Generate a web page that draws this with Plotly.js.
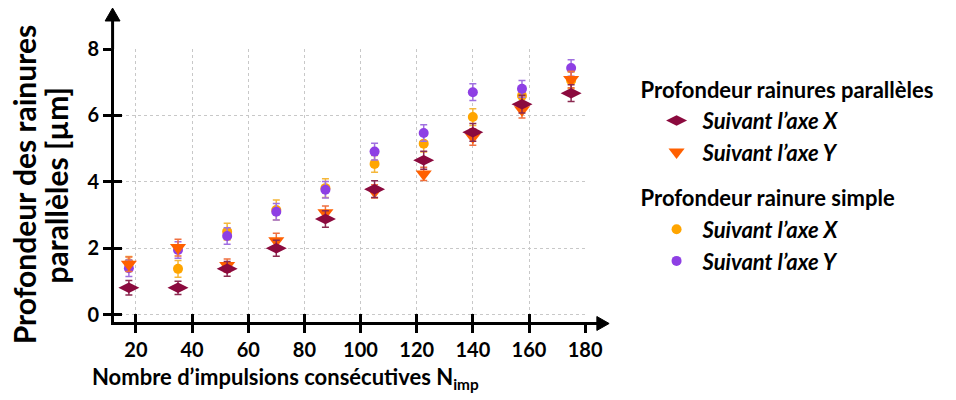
<!DOCTYPE html>
<html><head><meta charset="utf-8">
<script src="https://cdn.plot.ly/plotly-3.0.1.min.js"></script>
<style>body{margin:0;background:#fff}#c{width:956px;height:400px}</style>
</head><body><div id="c"></div>
<script>
const nImp = [17.5, 35, 52.5, 70, 87.5, 105, 122.5, 140, 157.5, 175];
const parX = [0.81, 0.81, 1.38, 2.00, 2.88, 3.78, 4.65, 5.49, 6.34, 6.67];
const parXErr = [0.22, 0.2, 0.22, 0.24, 0.25, 0.25, 0.27, 0.27, 0.27, 0.25];
const parY = [1.52, 2.02, 1.48, 2.23, 3.07, 3.71, 4.24, 5.35, 6.17, 7.08];
const parYErr = [0.22, 0.25, 0.2, 0.22, 0.2, 0.2, 0.2, 0.25, 0.25, 0.25];
const simX = [1.55, 1.38, 2.50, 3.15, 3.81, 4.54, 5.15, 5.95, 6.59, 7.05];
const simXErr = [0.2, 0.25, 0.25, 0.3, 0.28, 0.25, 0.25, 0.25, 0.25, 0.25];
const simY = [1.40, 1.95, 2.37, 3.10, 3.76, 4.91, 5.47, 6.70, 6.80, 7.43];
const simYErr = [0.25, 0.25, 0.25, 0.25, 0.25, 0.25, 0.25, 0.25, 0.25, 0.25];
const xTicks = [20, 40, 60, 80, 100, 120, 140, 160, 180];
const yTicks = [0, 2, 4, 6, 8];
const group1 = 'Profondeur rainures parallèles';
const group2 = 'Profondeur rainure simple';
const itemX = '<b><i>Suivant l’axe X</i></b>';
const itemY = '<b><i>Suivant l’axe Y</i></b>';
const xTitle = '<b>Nombre d’impulsions consécutives N<sub>imp</sub></b>';
const yTitle1 = '<b>Profondeur des rainures</b>';
const yTitle2 = '<b>parallèles [µm]</b>';

const F = 'Lato, "Open Sans", sans-serif';
function tr(y, err, name, grp, gtitle, color, ecolor, symbol, size, rank) {
  const t = {
    x: nImp, y: y, type: 'scatter', mode: 'markers', name: name,
    legendgroup: grp, legendrank: rank,
    marker: {color: color, symbol: symbol, size: size, line: {width: 0}},
    error_y: {type: 'data', array: err, visible: true, color: ecolor, thickness: 1.5, width: 3.5}
  };
  if (gtitle) t.legendgrouptitle = {text: '<b>' + gtitle + '</b>', font: {family: F, size: 22, color: '#000'}};
  return t;
}
const data = [
  tr(simX, simXErr, itemX, 'g2', group2, '#FFA500', '#F5B73A', 'circle', 10, 3),
  tr(simY, simYErr, itemY, 'g2', null, '#8E3FE4', '#A070E0', 'circle', 10, 4),
  tr(parY, parYErr, itemY, 'g1', null, '#FF6000', '#F07040', 'triangle-down', 14, 2),
  tr(parX, parXErr, itemX, 'g1', group1, '#8B0A3E', '#8B2A50', 'diamond-wide', 15, 1)
];
const axFont = {family: F, size: 20, color: '#000', weight: 'bold'};
const blk = '#000';
const layout = {
  width: 956, height: 400,
  margin: {l: 114, r: 366, t: 49, b: 78},
  paper_bgcolor: '#fff', plot_bgcolor: '#fff',
  showlegend: true,
  legend: {x: 1.105, xanchor: 'left', y: 0.93, yanchor: 'top', traceorder: 'grouped',
    font: {family: F, size: 22, color: '#000'}, tracegroupgap: 14, indentation: 15, itemwidth: 42,
    bgcolor: 'rgba(0,0,0,0)'},
  xaxis: {range: [12.2, 180.3], tickvals: xTicks, ticktext: xTicks.map(String),
    showline: true, linecolor: blk, linewidth: 3, ticks: 'outside', ticklen: 8, tickwidth: 3, tickcolor: blk,
    showgrid: true, gridcolor: '#c8c8c8', griddash: 'dot', gridwidth: 1, zeroline: false,
    tickfont: axFont},
  yaxis: {range: [-0.22, 8.0], tickvals: yTicks, ticktext: yTicks.map(String),
    showline: true, linecolor: blk, linewidth: 3, ticks: 'outside', ticklen: 8, tickwidth: 3, tickcolor: blk,
    showgrid: true, gridcolor: '#c8c8c8', griddash: 'dot', gridwidth: 1, zeroline: false,
    tickfont: axFont},
  xaxis2: {overlaying: 'x', matches: 'x', anchor: 'y', side: 'bottom', tickvals: xTicks,
    showticklabels: false, showgrid: false, zeroline: false, showline: false,
    ticks: 'inside', ticklen: 8, tickwidth: 3, tickcolor: blk},
  yaxis2: {overlaying: 'y', matches: 'y', anchor: 'x', side: 'left', tickvals: yTicks,
    showticklabels: false, showgrid: false, zeroline: false, showline: false,
    ticks: 'inside', ticklen: 8, tickwidth: 3, tickcolor: blk},
  annotations: [
    {xref: 'paper', yref: 'paper', x: 0.363, y: -0.205, xanchor: 'center', yanchor: 'middle', showarrow: false,
      text: xTitle, font: {family: F, size: 22, color: blk}},
    {xref: 'paper', yref: 'paper', x: -0.19, y: 0.502, xanchor: 'center', yanchor: 'middle', showarrow: false, textangle: -90,
      text: yTitle1, font: {family: F, size: 30, color: blk}},
    {xref: 'paper', yref: 'paper', x: -0.124, y: 0.502, xanchor: 'center', yanchor: 'middle', showarrow: false, textangle: -90,
      text: yTitle2, font: {family: F, size: 30, color: blk}}
  ],
  shapes: [
    {type: 'line', xref: 'paper', yref: 'paper', x0: 1.0, x1: 1.03, y0: -0.0055, y1: -0.0055, line: {color: blk, width: 3}},
    {type: 'path', xref: 'paper', yref: 'paper', path: 'M 1.023 0.0201 L 1.049 -0.0055 L 1.023 -0.031 Z', fillcolor: blk, line: {color: blk, width: 1}},
    {type: 'line', xref: 'paper', yref: 'paper', x0: -0.003, x1: -0.003, y0: 1.0, y1: 1.11, line: {color: blk, width: 3}},
    {type: 'path', xref: 'paper', yref: 'paper', path: 'M -0.0188 1.1026 L -0.003 1.150 L 0.0128 1.1026 Z', fillcolor: blk, line: {color: blk, width: 1}}
  ]
};
// invisible helper so the overlaid tick axes are drawn
data.push({x: [nImp[0]], y: [parX[0]], xaxis: 'x2', yaxis: 'y2', type: 'scatter', mode: 'markers',
  marker: {opacity: 0}, showlegend: false, hoverinfo: 'skip'});
Plotly.newPlot('c', data, layout, {displayModeBar: false, staticPlot: true});
</script></body></html>
